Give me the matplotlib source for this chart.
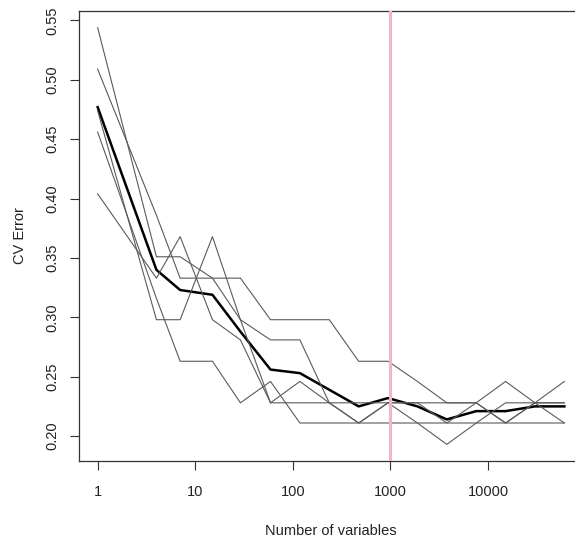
import matplotlib
matplotlib.use('Agg')
import matplotlib.pyplot as plt

plt.rcParams['font.family'] = ['Liberation Sans', 'DejaVu Sans']

# number of variables kept at each step of the cross-validation
n_vars = [1, 4, 7, 15, 29, 59, 118, 236, 472, 944, 1888, 3776, 7552, 15104, 30208, 60416]

# CV error for each of the 5 replicate runs
err_run1 = [0.544, 0.351, 0.351, 0.333, 0.298, 0.281, 0.281, 0.228, 0.211, 0.228, 0.211, 0.193, 0.211, 0.228, 0.228, 0.228]
err_run2 = [0.509, 0.386, 0.333, 0.333, 0.333, 0.298, 0.298, 0.298, 0.263, 0.263, 0.246, 0.228, 0.228, 0.211, 0.228, 0.246]
err_run3 = [0.474, 0.298, 0.298, 0.368, 0.298, 0.228, 0.228, 0.228, 0.228, 0.228, 0.228, 0.228, 0.228, 0.211, 0.228, 0.228]
err_run4 = [0.456, 0.316, 0.263, 0.263, 0.228, 0.246, 0.211, 0.211, 0.211, 0.211, 0.211, 0.211, 0.211, 0.211, 0.211, 0.211]
err_run5 = [0.404, 0.333, 0.368, 0.298, 0.281, 0.228, 0.246, 0.228, 0.211, 0.228, 0.228, 0.211, 0.228, 0.246, 0.228, 0.211]

# average over the runs (thick line)
err_mean = [0.477, 0.340, 0.323, 0.319, 0.288, 0.256, 0.253, 0.239, 0.225, 0.232, 0.225, 0.214, 0.221, 0.221, 0.225, 0.225]

cutoff = 1000

x_ticks = [1, 10, 100, 1000, 10000]
x_labels = ['1', '10', '100', '1000', '10000']
y_ticks = [0.20, 0.25, 0.30, 0.35, 0.40, 0.45, 0.50, 0.55]
y_labels = ['0.20', '0.25', '0.30', '0.35', '0.40', '0.45', '0.50', '0.55']

fig = plt.figure(figsize=(5.75, 5.41), dpi=100)
ax = fig.add_axes([79 / 575, 80 / 541, 504 / 575, 450 / 541])

ax.plot(n_vars, err_mean, color='black', lw=1.8, zorder=2)
for run in [err_run1, err_run2, err_run3, err_run4, err_run5]:
    ax.plot(n_vars, run, color='#5a5a5a', lw=0.8, zorder=3)
ax.axvline(cutoff, color='#f5b3c3', lw=2.2, zorder=4)

ax.set_xscale('log')
ax.set_xlim(0.644, 93800)
ax.set_ylim(0.179, 0.558)

ax.set_xticks(x_ticks, x_labels)
ax.xaxis.set_minor_locator(matplotlib.ticker.NullLocator())
ax.set_yticks(y_ticks, y_labels, rotation=90, va='center')

ax.tick_params(direction='out', length=6.8, width=0.8, color='#333333',
               labelsize=10.5, labelcolor='#222222')
ax.tick_params(axis='x', pad=10.5)
ax.tick_params(axis='y', pad=7)

for sp in ax.spines.values():
    sp.set_linewidth(0.9)
    sp.set_color('#333333')
ax.spines['right'].set_visible(False)

ax.set_xlabel('Number of variables', fontsize=10.5, color='#222222')
ax.set_ylabel('CV Error', fontsize=10.5, color='#222222')
ax.xaxis.set_label_coords(0.5, -0.14)
ax.yaxis.set_label_coords(-0.103, 0.5)

plt.savefig('out.png', dpi=100)
